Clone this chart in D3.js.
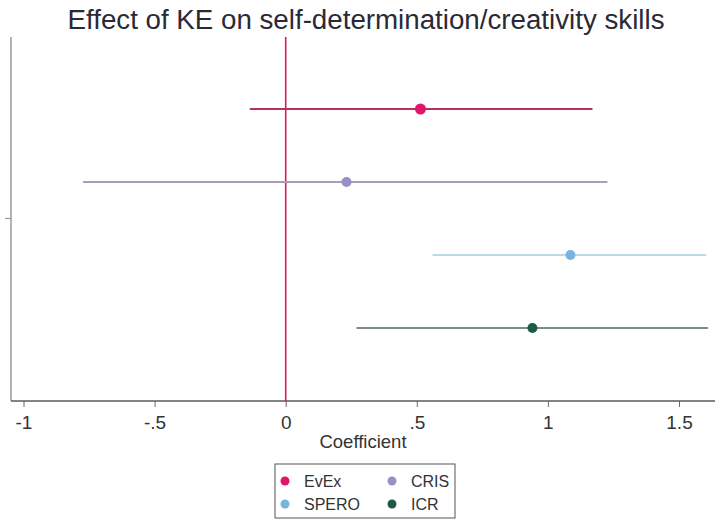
<!DOCTYPE html>
<html>
<head>
<meta charset="utf-8">
<script src="https://cdn.jsdelivr.net/npm/d3@7"></script>
<style>
  html, body { margin: 0; padding: 0; background: #fff; }
  svg { display: block; font-family: "Liberation Sans", Arial, sans-serif; }
</style>
</head>
<body>
<svg id="chart" width="715" height="524"></svg>
<script>
// Programme estimates with confidence intervals
const programmes = ["EvEx", "CRIS", "SPERO", "ICR"];
const estimates  = [0.514, 0.232, 1.086, 0.941];
const ciLow      = [-0.137, -0.773, 0.56, 0.27];
const ciHigh     = [1.17, 1.227, 1.604, 1.611];
const xTicks     = [-1, -0.5, 0, 0.5, 1, 1.5];
const xTickLabels = ["-1", "-.5", "0", ".5", "1", "1.5"];

const markerColors = ["#e0156b", "#9c8fc8", "#79b4df", "#1d5a48"];
const lineColors   = ["#b8325e", "#a39fbd", "#b9dde8", "#7d8c86"];

const svg = d3.select("#chart");
const plotLeft = 11, plotRight = 715, plotTop = 37, plotBottom = 401;

const x = d3.scaleLinear().domain([-1, 1.5]).range([23.5, 679]);
const y = d3.scalePoint().domain(programmes).range([109, 328]);

// Title
svg.append("text")
  .attr("x", 366).attr("y", 29)
  .attr("text-anchor", "middle")
  .attr("font-size", 27)
  .attr("textLength", 597)
  .attr("lengthAdjust", "spacingAndGlyphs")
  .attr("fill", "#2a2a36")
  .text("Effect of KE on self-determination/creativity skills");

// Left axis line with a single centred tick
const midY = (y("EvEx") + y("ICR")) / 2;
svg.append("line")
  .attr("x1", plotLeft).attr("x2", plotLeft)
  .attr("y1", plotTop).attr("y2", plotBottom)
  .attr("stroke", "#9a9a9a").attr("stroke-width", 1.5);
svg.append("line")
  .attr("x1", plotLeft - 6).attr("x2", plotLeft)
  .attr("y1", midY).attr("y2", midY)
  .attr("stroke", "#9a9a9a").attr("stroke-width", 1.2);

// Bottom axis
const xAxis = d3.axisBottom(x)
  .tickValues(xTicks)
  .tickFormat((d, i) => xTickLabels[i])
  .tickSize(6)
  .tickSizeOuter(0);
const gx = svg.append("g")
  .attr("transform", `translate(0,${plotBottom})`)
  .call(xAxis);
gx.select(".domain").remove();
gx.append("line")
  .attr("x1", plotLeft).attr("x2", plotRight)
  .attr("stroke", "#5a5a5a").attr("stroke-width", 1.5);
gx.selectAll(".tick line").attr("stroke", "#6a6a6a");
gx.selectAll(".tick text")
  .attr("y", 15)
  .attr("font-size", 19)
  .attr("fill", "#333")
  .attr("font-family", "Liberation Sans, Arial, sans-serif");

svg.append("text")
  .attr("x", 363).attr("y", 448)
  .attr("text-anchor", "middle")
  .attr("font-size", 18.5)
  .attr("fill", "#333")
  .text("Coefficient");

// Reference line at zero
svg.append("line")
  .attr("x1", x(0)).attr("x2", x(0))
  .attr("y1", plotTop).attr("y2", plotBottom)
  .attr("stroke", "#d81b60").attr("stroke-width", 1.6);

// Confidence intervals
svg.selectAll("line.ci")
  .data(programmes)
  .join("line")
  .attr("class", "ci")
  .attr("x1", (d, i) => x(ciLow[i]))
  .attr("x2", (d, i) => x(ciHigh[i]))
  .attr("y1", d => y(d)).attr("y2", d => y(d))
  .attr("stroke", (d, i) => lineColors[i])
  .attr("stroke-width", 2);

// Point estimates
svg.selectAll("circle.est")
  .data(programmes)
  .join("circle")
  .attr("class", "est")
  .attr("cx", (d, i) => x(estimates[i]))
  .attr("cy", d => y(d))
  .attr("r", (d, i) => i === 0 ? 5.5 : 5)
  .attr("fill", (d, i) => markerColors[i]);

// Legend
const lg = svg.append("g");
lg.append("rect")
  .attr("x", 275).attr("y", 464)
  .attr("width", 180).attr("height", 54)
  .attr("fill", "#fff")
  .attr("stroke", "#555").attr("stroke-width", 1);
const legendPos = [[285, 481], [392, 481], [285, 504], [392, 504]];
programmes.forEach((p, i) => {
  const [lx, ly] = legendPos[i];
  lg.append("circle")
    .attr("cx", lx).attr("cy", ly).attr("r", 4.5)
    .attr("fill", markerColors[i]);
  lg.append("text")
    .attr("x", lx + 19).attr("y", ly + 6)
    .attr("font-size", 16)
    .attr("fill", "#333")
    .text(p);
});
</script>
</body>
</html>
